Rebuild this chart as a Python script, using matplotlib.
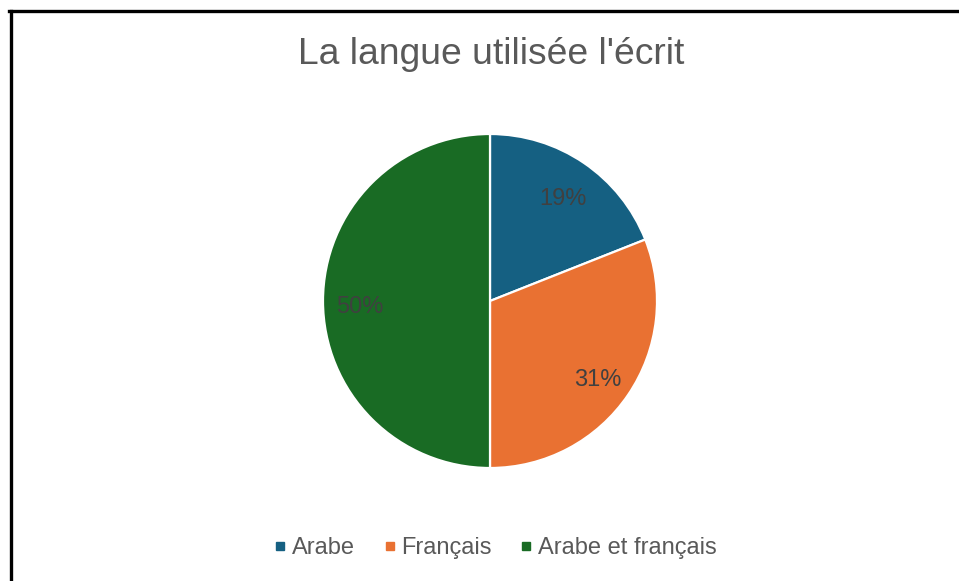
import matplotlib.pyplot as plt
from matplotlib.lines import Line2D

plt.rcParams['font.family'] = ['Liberation Sans', 'DejaVu Sans']

labels = ['Arabe', 'Français', 'Arabe et français']
values = [19, 31, 50]
colors = ['#156082', '#E97132', '#196B24']
title = "La langue utilisée l'écrit"

W, H = 959, 581
fig = plt.figure(figsize=(W / 100, H / 100), dpi=100)

# pie axes: centre (490, 301) px, radius 167 px
cx, cy, r = 490, 301, 167
ax = fig.add_axes([(cx - r) / W, (H - cy - r) / H, 2 * r / W, 2 * r / H])
wedges, texts, autotexts = ax.pie(
    values, colors=colors, startangle=90, counterclock=False,
    autopct='%1.0f%%', pctdistance=0.78,
    wedgeprops=dict(edgecolor='white', linewidth=1.6),
    textprops=dict(color='#404040', fontsize=17))
for t in autotexts:
    x, y = t.get_position()
    t.set_position((x, y - 0.035))
ax.set_xlim(-1, 1)
ax.set_ylim(-1, 1)
ax.set_aspect('equal')

fig.text(491 / W, 1 - 64 / H, title, ha='center', va='baseline',
         fontsize=26.8, color='#595959')

handles = [Line2D([], [], marker='s', linestyle='none', markersize=6,
                  markerfacecolor=c, markeredgecolor=c) for c in colors]
fig.legend(handles, labels, loc='center', bbox_to_anchor=(495 / W, 1 - 548 / H),
           ncol=3, frameon=False, fontsize=17, labelcolor='#595959',
           handlelength=0.6, handletextpad=0.2, columnspacing=1.15)

# chart border (top and left edges visible)
fig.add_artist(Line2D([10.5 / W, 10.5 / W], [0, 1 - 10.5 / H], color='black',
                      linewidth=2.4, transform=fig.transFigure))
fig.add_artist(Line2D([9 / W, 957 / W], [1 - 10.5 / H, 1 - 10.5 / H], color='black',
                      linewidth=2.4, transform=fig.transFigure))

fig.savefig('out.png', dpi=100)
